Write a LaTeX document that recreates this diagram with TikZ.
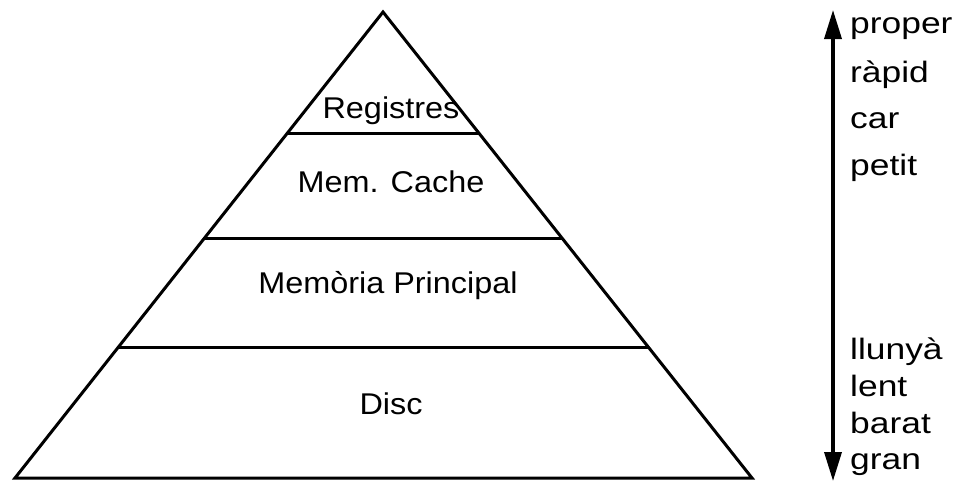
\documentclass[tikz,border=0pt]{standalone}
\usepackage{fontspec}
\setmainfont[FakeStretch=1.08]{Liberation Sans}
\newfontfamily\sidefont[FakeStretch=1.2]{Liberation Sans}
\usetikzlibrary{arrows.meta,calc}
\begin{document}
\begin{tikzpicture}[x=1pt,y=-1pt,
  edge/.style={line width=3pt,line join=miter},
  level/.style={font=\fontsize{30}{30}\selectfont,anchor=center,inner sep=0pt},
  side/.style={font=\sidefont\fontsize{29.5}{30}\selectfont,anchor=base west,inner sep=0pt},
  scale arrow/.style={line width=3.5pt,{Triangle[length=29pt,width=17pt]}-{Triangle[length=29pt,width=17pt]}}]
  \useasboundingbox (0,0) rectangle (961,482);
  % pyramid outline
  \coordinate (apex) at (383,12);
  \coordinate (bl) at (15,478);
  \coordinate (br) at (752,478);
  \draw[edge] (apex) -- (br) -- (bl) -- cycle;
  % level dividers
  \foreach \f/\n in {0.2597/a,0.4850/b,0.7210/c}{
    \coordinate (l\n) at ($(apex)!\f!(bl)$);
    \coordinate (r\n) at ($(apex)!\f!(br)$);
    \draw[edge] (l\n) -- (r\n);
  }
  % level labels
  \node[level] (reg) at (391,111) {Registres};
  \node[level] (cache) at (391,182) {Mem. Cache};
  \node[level] (main) at (388,286) {Memòria Principal};
  \node[level] (disc) at (391,404) {Disc};
  % scale arrow
  \coordinate (up) at (833,10);
  \coordinate (down) at (833,481);
  \draw[scale arrow] (up) -- (down);
  % properties at each end
  \node[side] (p1) at (850,33) {proper};
  \node[side] (p2) at (850,82) {ràpid};
  \node[side] (p3) at (850,128) {car};
  \node[side] (p4) at (850,175) {petit};
  \node[side] (q1) at (850,359) {llunyà};
  \node[side] (q2) at (850,396) {lent};
  \node[side] (q3) at (850,433) {barat};
  \node[side] (q4) at (850,469) {gran};
\end{tikzpicture}
\end{document}
